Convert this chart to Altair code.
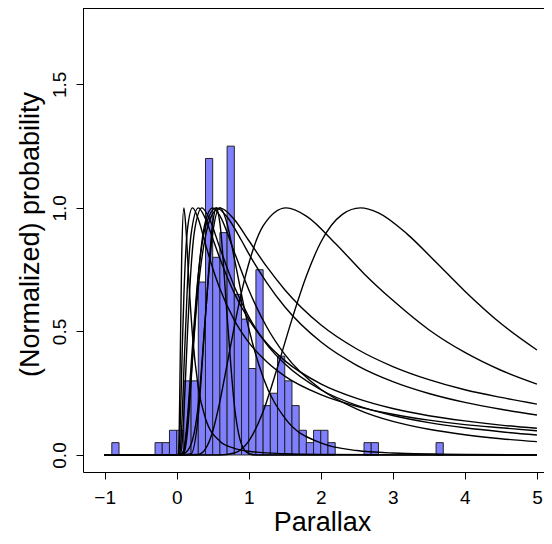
import altair as alt
import pandas as pd

# ---------------- histogram (bin width 0.1, density) ----------------
bin_start = [-0.9, -0.3, -0.2, -0.1, 0.0, 0.1, 0.2, 0.3, 0.4, 0.5, 0.6, 0.7, 0.8, 0.9,
             1.0, 1.1, 1.2, 1.3, 1.4, 1.5, 1.6, 1.7, 1.8, 1.9, 2.0, 2.1, 2.6, 2.7, 3.6]
bin_height = [0.05, 0.05, 0.05, 0.10, 0.10, 0.30, 0.30, 0.70, 1.20, 0.80, 0.90, 1.25, 0.65, 0.55,
              0.35, 0.75, 0.20, 0.25, 0.40, 0.30, 0.20, 0.10, 0.05, 0.10, 0.10, 0.05, 0.05, 0.05, 0.05]

# ---------------- normalized probability curves ----------------
A_x = [-1, 0, 0.6, 0.8, 1.0, 1.2, 1.4, 1.6, 1.8, 2.0, 2.3, 2.55, 2.8, 3.2, 3.6, 4.0, 4.5, 5.0]
A_y = [0, 0, 0.0003, 0.008, 0.056, 0.176, 0.356, 0.549, 0.724, 0.861, 0.974, 1.0, 0.980, 0.894, 0.780, 0.663, 0.532, 0.425]

B_x = [-1, 0, 0.3, 0.4, 0.5, 0.6, 0.7, 0.8, 0.9, 1.0, 1.2, 1.52, 1.8, 2.2, 2.6, 3.0, 3.5, 4.0, 4.5, 5.0]
B_y = [0, 0, 0.002, 0.0245, 0.095, 0.217, 0.367, 0.52, 0.659, 0.774, 0.927, 1.0, 0.967, 0.857, 0.734, 0.626, 0.507, 0.415, 0.343, 0.287]

C_x = [-1, 0, 0.05, 0.1, 0.15, 0.2, 0.3, 0.4, 0.5, 0.6, 0.8, 1.0, 1.25, 1.5, 2.0, 2.5, 3.0, 3.5, 4.0, 4.5, 5.0]
C_y = [0, 0, 0, 0.017, 0.129, 0.318, 0.677, 0.886, 0.977, 1.0, 0.953, 0.868, 0.762, 0.669, 0.527, 0.429, 0.358, 0.305, 0.264, 0.233, 0.206]

D_x = [-1, 0, 0.05, 0.1, 0.15, 0.2, 0.3, 0.4, 0.55, 0.7, 0.9, 1.0, 1.25, 1.5, 2.0, 2.5, 3.0, 3.5, 4.0, 4.5, 5.0]
D_y = [0, 0, 0, 0.021, 0.151, 0.361, 0.731, 0.924, 1.0, 0.963, 0.868, 0.815, 0.698, 0.600, 0.458, 0.363, 0.297, 0.249, 0.213, 0.185, 0.162]

E_x = [-1, 0, 0.03, 0.05, 0.08, 0.1, 0.15, 0.2, 0.3, 0.4, 0.5, 0.6, 0.8, 1.0, 1.25, 1.5, 2.0, 2.5, 3.0, 3.5, 4.0, 4.5, 5.0]
E_y = [0, 0, 0.0003, 0.022, 0.183, 0.342, 0.694, 0.893, 1.0, 0.956, 0.876, 0.795, 0.655, 0.549, 0.452, 0.382, 0.288, 0.229, 0.188, 0.159, 0.138, 0.121, 0.108]

F_x = [-1, 0, 0.02, 0.04, 0.06, 0.08, 0.1, 0.15, 0.22, 0.3, 0.4, 0.5, 0.6, 0.8, 1.0, 1.25, 1.5, 2.0, 2.5, 3.0, 3.5, 4.0, 4.5, 5.0]
F_y = [0, 0, 0.0003, 0.050, 0.231, 0.454, 0.643, 0.914, 1.0, 0.955, 0.853, 0.756, 0.673, 0.546, 0.456, 0.377, 0.319, 0.244, 0.197, 0.165, 0.141, 0.123, 0.110, 0.098]

G_x = [-1, 0, 0.05, 0.08, 0.1, 0.15, 0.2, 0.25, 0.35, 0.45, 0.6, 0.8, 1.0, 1.25, 1.5, 2.0, 2.5, 3.0, 3.5, 4.0, 4.5, 5.0]
G_y = [0, 0, 0.003, 0.064, 0.164, 0.494, 0.759, 0.911, 1.0, 0.959, 0.838, 0.682, 0.560, 0.448, 0.369, 0.264, 0.201, 0.160, 0.131, 0.110, 0.094, 0.081]

H_x = [-1, 0, 0.02, 0.03, 0.05, 0.07, 0.1, 0.13, 0.17, 0.22, 0.3, 0.4, 0.6, 0.8, 1.0, 1.5, 2.0, 3.0, 5.0]
H_y = [0, 0, 0.0008, 0.034, 0.398, 0.806, 1.0, 0.911, 0.70, 0.483, 0.274, 0.148, 0.056, 0.027, 0.015, 0.005, 0.002, 0.0007, 0]

I_x = [-1, 0, 0.1, 0.15, 0.2, 0.25, 0.3, 0.4, 0.5, 0.6, 0.8, 1.0, 1.25, 1.5, 2.0, 2.5, 3.0, 3.5, 4.0, 4.5, 5.0]
I_y = [0, 0, 0.007, 0.095, 0.297, 0.528, 0.723, 0.946, 1.0, 0.968, 0.821, 0.669, 0.518, 0.407, 0.266, 0.186, 0.136, 0.104, 0.082, 0.066, 0.054]

J_x = [-1, 0, 0.2, 0.3, 0.4, 0.5, 0.6, 0.7, 0.8, 1.0, 1.2, 1.5, 2.0, 2.5, 3.0, 4.0, 5.0]
J_y = [0, 0, 0.0045, 0.159, 0.566, 0.898, 1.0, 0.936, 0.796, 0.513, 0.314, 0.150, 0.049, 0.018, 0.008, 0.002, 0.0005]

N_x = [-1, 0, 0.1, 0.2, 0.3, 0.4, 0.5, 0.55, 0.6, 0.7, 0.8, 0.9, 1.0, 1.1, 5.0]
N_y = [0, 0, 0.006, 0.044, 0.203, 0.563, 0.938, 1.0, 0.938, 0.563, 0.203, 0.044, 0.006, 0, 0]

curves = {"A": (A_x, A_y), "B": (B_x, B_y), "C": (C_x, C_y), "D": (D_x, D_y),
          "E": (E_x, E_y), "F": (F_x, F_y), "G": (G_x, G_y), "H": (H_x, H_y),
          "I": (I_x, I_y), "J": (J_x, J_y), "N": (N_x, N_y)}

rows = []
for name, (xs_, ys_) in curves.items():
    for i, (xv, yv) in enumerate(zip(xs_, ys_)):
        rows.append({"curve": name, "x": xv, "y": yv, "order": i})
line_df = pd.DataFrame(rows)
hist_df = pd.DataFrame({"start": bin_start, "height": bin_height})

FONT = "Liberation Sans"
xscale = alt.Scale(domain=[-1.30, 5.098], nice=False, zero=False)
yscale = alt.Scale(domain=[-0.0688, 1.809], nice=False, zero=False)

x_axis = alt.Axis(values=[-1, 0, 1, 2, 3, 4, 5], format="d", grid=False,
                  tickSize=7, tickColor="black", tickWidth=1,
                  domainColor="black", domainWidth=1,
                  labelFont=FONT, labelFontSize=19, labelColor="black",
                  labelPadding=24, labelBaseline="alphabetic", labelFlush=False,
                  labelOverlap=False,
                  titleFont=FONT, titleFontSize=27, titleFontWeight="normal",
                  titleColor="black", titleX=239, titleY=58, titleAlign="center",
                  titleBaseline="alphabetic")
y_axis = alt.Axis(values=[0, 0.5, 1.0, 1.5], format=".1f", grid=False,
                  tickSize=7, tickColor="black", tickWidth=1,
                  domainColor="black", domainWidth=1,
                  labelFont=FONT, labelFontSize=19, labelColor="black",
                  labelAngle=270, labelAlign="center", labelBaseline="alphabetic",
                  labelPadding=11, labelFlush=False, labelOverlap=False,
                  titleFont=FONT, titleFontSize=27, titleFontWeight="normal",
                  titleColor="black", titleAngle=270, titleX=-45, titleY=226,
                  titleAlign="center", titleBaseline="alphabetic")

X_TITLE = "Parallax"
Y_TITLE = "(Normalized) probability"

bars = alt.Chart(hist_df).transform_calculate(end="datum.start + 0.1").mark_rect(
    fill="#8080ff", stroke="#222222", strokeWidth=1
).encode(
    x=alt.X("start:Q", scale=xscale, axis=x_axis, title=X_TITLE),
    x2="end:Q",
    y=alt.Y("height:Q", scale=yscale, axis=y_axis, title=Y_TITLE),
    y2=alt.datum(0),
)

lines = alt.Chart(line_df).mark_line(
    color="black", strokeWidth=1.4, interpolate="monotone", clip=True
).encode(
    x=alt.X("x:Q", scale=xscale, axis=x_axis, title=X_TITLE),
    y=alt.Y("y:Q", scale=yscale, axis=y_axis, title=Y_TITLE),
    detail="curve:N",
    order="order:Q",
)

top = alt.Chart(hist_df).mark_rule(color="black", strokeWidth=1).encode(y=alt.value(0.5))

chart = alt.layer(bars, lines, top).properties(
    width=461, height=464,
    padding={"left": 75, "top": 0, "right": 0, "bottom": 64},
    autosize="none", background="white",
).configure_view(stroke=None)

chart.save("out.html", embed_options={"renderer": "svg", "actions": False})
